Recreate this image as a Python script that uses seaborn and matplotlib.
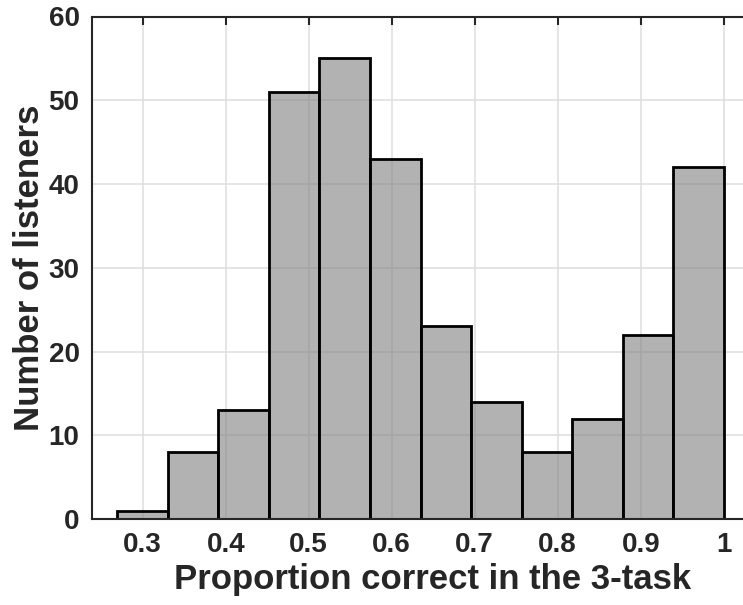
import numpy as np
import pandas as pd
import matplotlib
matplotlib.use("Agg")
import matplotlib.pyplot as plt
import seaborn as sns

# ---- data ----
counts = [1, 8, 13, 51, 55, 43, 23, 14, 8, 12, 22, 42]
bin_lo = 0.2694
bin_hi = 1.0
x_ticks = [0.3, 0.4, 0.5, 0.6, 0.7, 0.8, 0.9, 1.0]
x_tick_labels = ["0.3", "0.4", "0.5", "0.6", "0.7", "0.8", "0.9", "1"]
y_ticks = [0, 10, 20, 30, 40, 50, 60]
x_label = "Proportion correct in the 3-task"
y_label = "Number of listeners"

edges = np.linspace(bin_lo, bin_hi, len(counts) + 1)
centers = (edges[:-1] + edges[1:]) / 2
df = pd.DataFrame({"x": centers, "n": counts})

sns.set_theme(style="white")
plt.rcParams["font.family"] = ["Liberation Sans", "DejaVu Sans"]
plt.rcParams["font.weight"] = "bold"

W, H = 743, 605
fig = plt.figure(figsize=(W / 100, H / 100), dpi=100)
left_px, right_px, top_px, bot_px = 92, 774, 16.5, 519
ax = fig.add_axes([left_px / W, 1 - bot_px / H, (right_px - left_px) / W, (bot_px - top_px) / H])

ax.grid(True, color="#dedede", linewidth=1.1)
ax.set_axisbelow(True)

sns.histplot(data=df, x="x", weights="n", bins=edges.tolist(), ax=ax,
             color=(0.5, 0.5, 0.5), alpha=0.6, edgecolor="black", linewidth=2.0)

px_per_unit = 830.0
x0 = 0.3 - (142.7 - left_px) / px_per_unit
x1 = x0 + (right_px - left_px) / px_per_unit
ax.set_xlim(x0, x1)
ax.set_ylim(0, 60)
ax.set_xticks(x_ticks)
ax.set_xticklabels(x_tick_labels)
ax.set_yticks(y_ticks)

ax.tick_params(axis="both", direction="in", length=6, width=1.5, color="#262626",
               labelsize=20, labelcolor="#262626", top=True, right=True, pad=9)
for lab in ax.get_xticklabels() + ax.get_yticklabels():
    lab.set_fontweight("bold")

for s in ax.spines.values():
    s.set_visible(True)
    s.set_color("#262626")
    s.set_linewidth(1.5)

ax.set_xlabel(x_label, fontsize=25, fontweight="bold", color="#262626", labelpad=4)
ax.set_ylabel(y_label, fontsize=25, fontweight="bold", color="#262626", labelpad=2)

fig.savefig("out.png", dpi=100)
